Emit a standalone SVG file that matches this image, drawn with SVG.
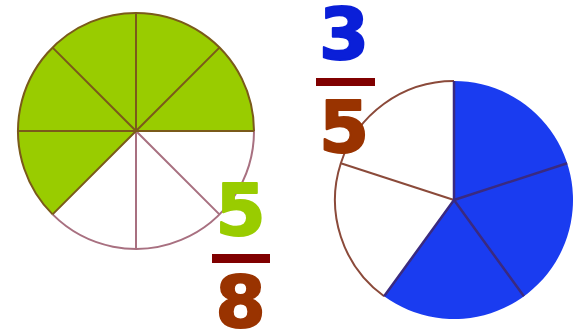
<svg xmlns="http://www.w3.org/2000/svg" width="581" height="332" viewBox="0 0 581 332">
<style>
.num{font-family:"DejaVu Sans",Verdana,sans-serif;font-weight:bold;font-size:72px;text-anchor:middle;stroke-width:2;stroke-linejoin:round}
.g{fill:#99cc00}
.w{fill:#ffffff}
.b{fill:#1a3cf0}
.ol{stroke:#7a5a1a;stroke-width:2;fill:none}
.mv{stroke:#a87080;stroke-width:2;fill:none}
.bl{stroke:#3a2a80;stroke-width:2.5;fill:none}
.br{stroke:#8b4a3a;stroke-width:2;fill:none}
.bar{fill:#800000}
</style>
<rect width="581" height="332" fill="#ffffff"/>
<g id="circle-eighths">
<path class="w" d="M136,131 L254,131 A118,118 0 0 1 52.6,214.4 Z"/>
<path class="g" d="M136,131 L52.6,214.4 A118,118 0 1 1 254,131 Z"/>
<path class="mv" d="M254,131 A118,118 0 0 1 52.6,214.4"/>
<path class="ol" d="M52.6,214.4 A118,118 0 1 1 254,131"/>
<path class="mv" d="M136,131 L219.4,214.4 M136,131 L136,249"/>
<path class="ol" d="M136,131 L254,131 M136,131 L52.6,214.4 M136,131 L18,131 M136,131 L52.6,47.6 M136,131 L136,13 M136,131 L219.4,47.6"/>
</g>
<g id="circle-fifths">
<path class="w" d="M454,200 L384.1,296.3 A119,119 0 0 1 454,81 Z"/>
<path class="b" d="M454,200 L454,81 A119,119 0 1 1 384.1,296.3 Z"/>
<path class="br" d="M384.1,296.3 A119,119 0 0 1 454,81"/>
<path class="br" d="M454,200 L340.8,163.2"/>
<path class="bl" d="M454,200 L454,81 M454,200 L567.2,163.2 M454,200 L523.9,296.3 M454,200 L384.1,296.3"/>
</g>
<g id="fraction-5-8">
<text class="num" x="240.5" y="235" fill="#99cc00" stroke="#99cc00">5</text>
<rect class="bar" x="212" y="254" width="58" height="9"/>
<text class="num" x="240.5" y="327" fill="#993300" stroke="#993300">8</text>
</g>
<g id="fraction-3-5">
<text class="num" x="344" y="59" fill="#0a1fd8" stroke="#0a1fd8">3</text>
<rect class="bar" x="316" y="78" width="59" height="8"/>
<text class="num" x="344" y="152" fill="#993300" stroke="#993300">5</text>
</g>
<g id="connectors"/>
</svg>
